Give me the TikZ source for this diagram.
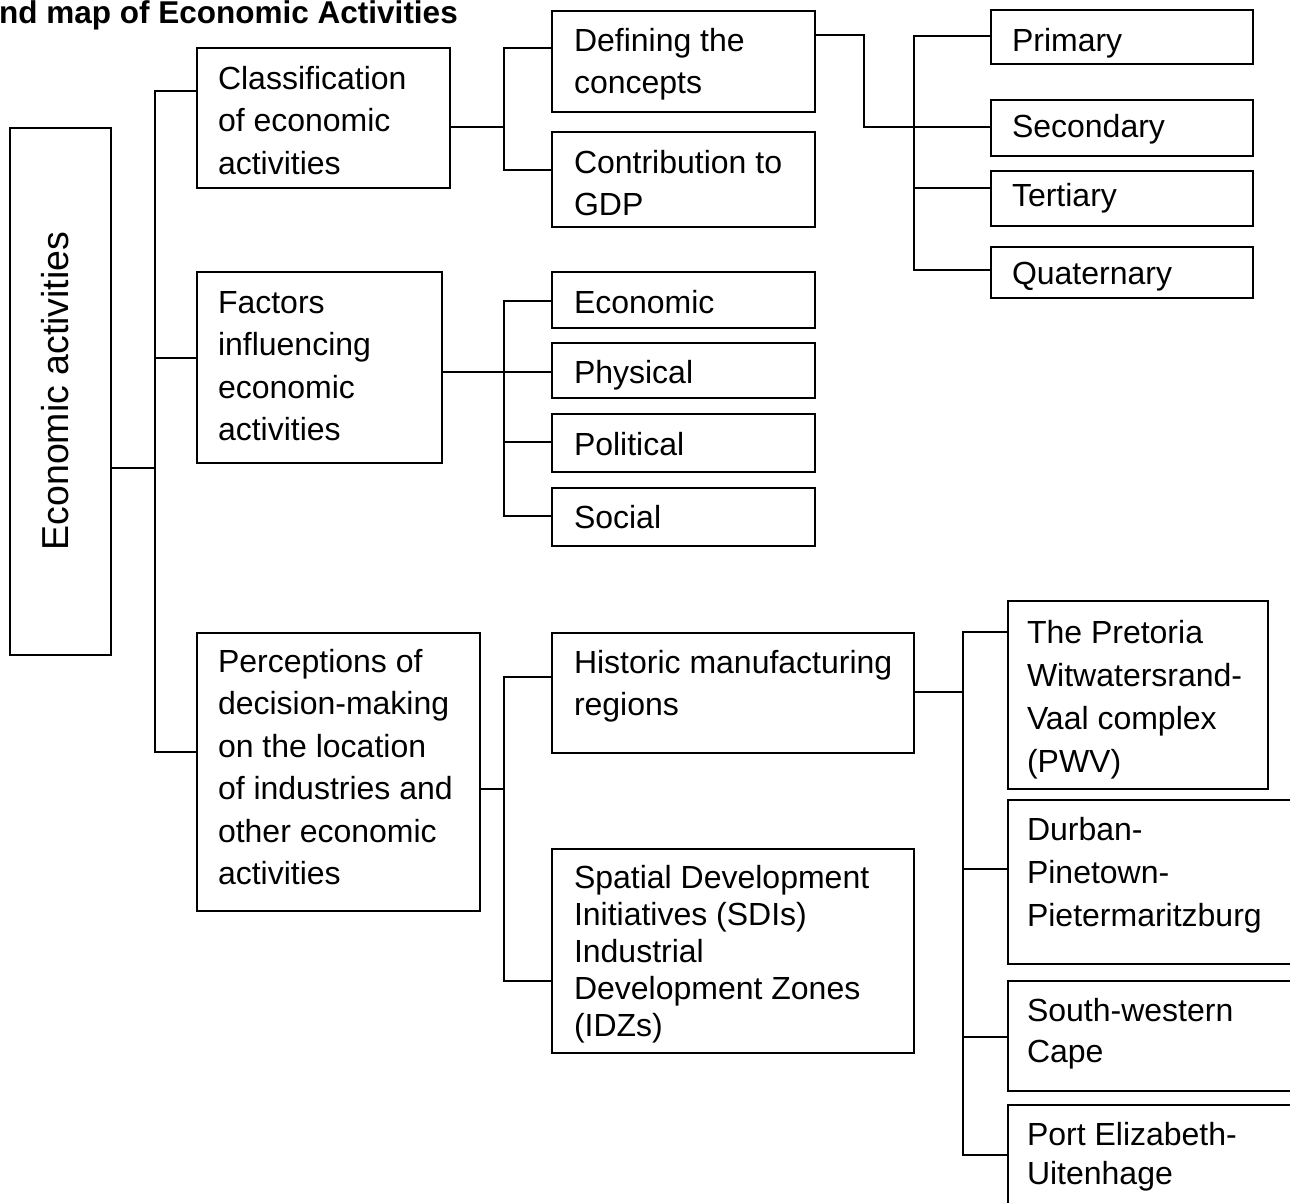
\documentclass[tikz,border=0pt]{standalone}
\usepackage{fontspec}
\setmainfont{Liberation Sans}
\usetikzlibrary{fit}
\newcommand\mlines[1]{\begin{tabular}[t]{@{}l@{}}#1\end{tabular}}
\begin{document}
\begin{tikzpicture}[x=1pt,y=-1pt,
  bx/.style={draw, line width=2pt, rectangle, inner sep=0pt, outer sep=0pt},
  txt/.style={anchor=base west, inner sep=0pt, outer sep=0pt, font=\fontsize{32}{42.5}\selectfont},
  wire/.style={line width=2pt},
]
\fill[white] (0,0) rectangle (1290,1202);
\useasboundingbox (0,0) rectangle (1290,1202);

% title
\node[anchor=base west, inner sep=0pt, font=\bfseries\fontsize{31.5}{38}\selectfont] (title) at (-1,23) {nd map of Economic Activities};

% boxes
\node[bx, fit={(10,128)(111,655)}] (econ) {};
\node[bx, fit={(197,48)(450,188)}] (cls) {};
\node[bx, fit={(197,272)(442,463)}] (fac) {};
\node[bx, fit={(197,633)(480,911)}] (perc) {};
\node[bx, fit={(552,11)(815,112)}] (def) {};
\node[bx, fit={(552,132)(815,227)}] (con) {};
\node[bx, fit={(991,10)(1253,64)}] (pri) {};
\node[bx, fit={(991,100)(1253,156)}] (sec) {};
\node[bx, fit={(991,171)(1253,226)}] (ter) {};
\node[bx, fit={(991,247)(1253,298)}] (qua) {};
\node[bx, fit={(552,272)(815,328)}] (eco) {};
\node[bx, fit={(552,343)(815,398)}] (phy) {};
\node[bx, fit={(552,414)(815,472)}] (pol) {};
\node[bx, fit={(552,488)(815,546)}] (soc) {};
\node[bx, fit={(552,633)(914,753)}] (his) {};
\node[bx, fit={(552,849)(914,1053)}] (spa) {};
\node[bx, fit={(1008,601)(1268,789)}] (pwv) {};
\node[bx, fit={(1008,800)(1300,964)}] (dur) {};
\node[bx, fit={(1008,981)(1300,1091)}] (swc) {};
\node[bx, fit={(1008,1105)(1300,1240)}] (pe) {};

% texts
\node[anchor=base, rotate=90, inner sep=0pt, font=\fontsize{37.5}{44}\selectfont] (econT) at (68,391) {Economic activities};
\node[txt] (clsT) at (218,89) {\mlines{Classification\\of economic\\activities}};
\node[txt] (facT) at (218,313) {\mlines{Factors\\influencing\\economic\\activities}};
\node[txt] (percT) at (218,672) {\mlines{Perceptions of\\decision-making\\on the location\\of industries and\\other economic\\activities}};
\node[txt] (defT) at (574,51) {\mlines{Defining the\\concepts}};
\node[txt] (conT) at (574,173) {\mlines{Contribution to\\GDP}};
\node[txt] (priT) at (1012,51) {Primary};
\node[txt] (secT) at (1012,137) {Secondary};
\node[txt] (terT) at (1012,206) {Tertiary};
\node[txt] (quaT) at (1012,284) {Quaternary};
\node[txt] (ecoT) at (574,313) {Economic};
\node[txt] (phyT) at (574,383) {Physical};
\node[txt] (polT) at (574,455) {Political};
\node[txt] (socT) at (574,528) {Social};
\node[txt] (hisT) at (574,673) {\mlines{Historic manufacturing\\regions}};
\node[txt, font=\fontsize{32}{37.2}\selectfont] (spaT) at (574,888) {\mlines{Spatial Development\\Initiatives (SDIs)\\Industrial\\Development Zones\\(IDZs)}};
\node[txt, font=\fontsize{32}{43}\selectfont] (pwvT) at (1027,643) {\mlines{The Pretoria\\Witwatersrand-\\Vaal complex\\(PWV)}};
\node[txt, font=\fontsize{32}{43}\selectfont] (durT) at (1027,840) {\mlines{Durban-\\Pinetown-\\Pietermaritzburg}};
\node[txt, font=\fontsize{32}{41}\selectfont] (swcT) at (1027,1021) {\mlines{South-western\\Cape}};
\node[txt, font=\fontsize{32}{39}\selectfont] (peT) at (1027,1145) {\mlines{Port Elizabeth-\\Uitenhage}};

% group A: root
\coordinate (a0) at (155,468);
\draw[wire] (econ.east |- a0) -- (a0);
\draw[wire] (cls.west |- 0,91) -| (a0) |- (perc.west |- 0,752);
\draw[wire] (a0 |- 0,358) -- (fac.west |- 0,358);

% group B: classification
\coordinate (b0) at (504,127);
\draw[wire] (cls.east |- b0) -- (b0);
\draw[wire] (def.west |- 0,48) -| (b0) |- (con.west |- 0,170);

% group C: defining the concepts
\coordinate (c0) at (864,127);
\coordinate (c1) at (914,127);
\draw[wire] (def.east |- 0,35) -| (c0) -- (c1);
\draw[wire] (pri.west |- 0,36) -| (c1) |- (qua.west |- 0,270);
\draw[wire] (c1) -- (sec.west |- c1);
\draw[wire] (c1 |- 0,188) -- (ter.west |- 0,188);

% group D: factors
\coordinate (d0) at (504,372);
\draw[wire] (fac.east |- d0) -- (phy.west |- d0);
\draw[wire] (eco.west |- 0,301) -| (d0) |- (soc.west |- 0,516);
\draw[wire] (d0 |- 0,442) -- (pol.west |- 0,442);

% group E: perceptions
\coordinate (e0) at (504,789);
\draw[wire] (perc.east |- e0) -- (e0);
\draw[wire] (his.west |- 0,677) -| (e0) |- (spa.west |- 0,981);

% group F: historic regions
\coordinate (f0) at (963,692);
\draw[wire] (his.east |- f0) -- (f0);
\draw[wire] (pwv.west |- 0,632) -| (f0) |- (pe.west |- 0,1155);
\draw[wire] (f0 |- 0,869) -- (dur.west |- 0,869);
\draw[wire] (f0 |- 0,1037) -- (swc.west |- 0,1037);
\end{tikzpicture}
\end{document}
